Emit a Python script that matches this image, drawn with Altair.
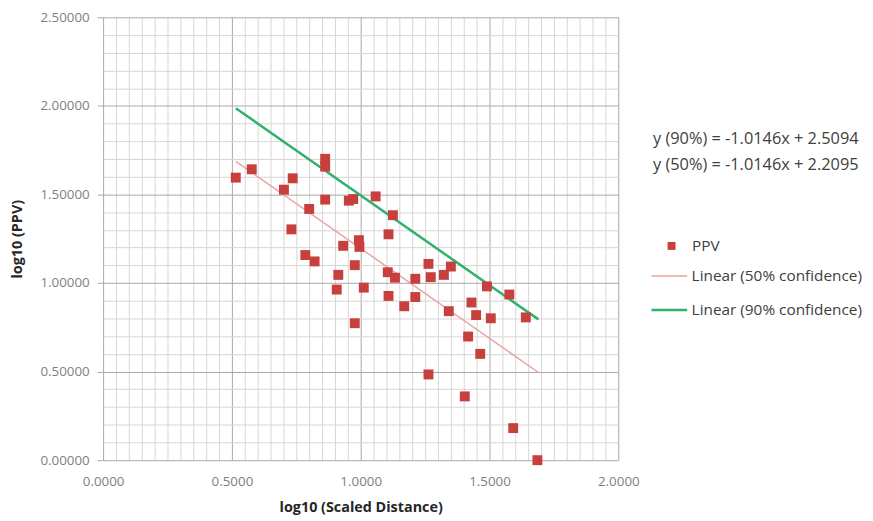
import altair as alt
import pandas as pd

# ---- data ----
x_vals = [0.515, 0.577, 0.702, 0.736, 0.862, 0.862, 0.862, 0.800, 0.731, 0.785, 0.821,
          0.954, 0.971, 1.058, 1.125, 1.108, 0.932, 0.993, 0.995, 0.977, 0.913, 0.907,
          1.012, 0.977, 1.105, 1.133, 1.108, 1.169, 1.212, 1.212, 1.263, 1.272, 1.323,
          1.350, 1.342, 1.490, 1.577, 1.430, 1.448, 1.505, 1.641, 1.417, 1.464, 1.263,
          1.404, 1.592, 1.686]
y_vals = [1.595, 1.642, 1.527, 1.591, 1.701, 1.657, 1.471, 1.418, 1.303, 1.158, 1.122,
          1.465, 1.474, 1.489, 1.383, 1.275, 1.210, 1.242, 1.204, 1.101, 1.046, 0.963,
          0.974, 0.773, 1.061, 1.030, 0.927, 0.869, 1.024, 0.921, 1.108, 1.033, 1.046,
          1.093, 0.841, 0.981, 0.935, 0.890, 0.819, 0.801, 0.806, 0.698, 0.600, 0.484,
          0.360, 0.181, 0.000]

point_series = ["PPV"]
line_series = ["Linear (50% confidence)", "Linear (90% confidence)"]
point_color = "#C8403E"
line_colors = ["#E9A3A3", "#2FB06B"]
line_widths = [1.5, 2.5]
slope = -1.0146
intercepts = [2.2095, 2.5094]
fit_x = [0.515, 1.69]
equations = ["y (90%) = -1.0146x + 2.5094", "y (50%) = -1.0146x + 2.2095"]

x_grid = [round(i * 0.05, 2) for i in range(41)]
y_grid = [round(i * 0.1, 1) for i in range(26)]

FONT = "Open Sans"

pts = pd.DataFrame({"x": x_vals, "y": y_vals, "series": point_series[0]})
fit_rows = []
for name, b in zip(line_series, intercepts):
    for xv in fit_x:
        fit_rows.append({"x": xv, "y": slope * xv + b, "series": name})
fits = pd.DataFrame(fit_rows)
eq_df = pd.DataFrame({"text": ["\n".join(equations)]})

major = "abs(datum.value * 2 - round(datum.value * 2)) < 0.000001"
grid_color = {"condition": {"test": major, "value": "#A8A8A8"}, "value": "#D6D6D6"}

x_axis = alt.Axis(
    values=x_grid, title="log10 (Scaled Distance)",
    labelExpr=f"{major} ? format(datum.value, '.4f') : ''",
    gridColor=grid_color, gridWidth=1, ticks=False, domain=False,
    labelFlush=False, labelOverlap=False, labelPadding=15,
    labelFont=FONT, labelFontSize=13.5, labelColor="#7F7F7F",
    titleFont=FONT, titleFontSize=14.5, titleFontWeight="bold", titleColor="#262626",
    titlePadding=12,
)
y_axis = alt.Axis(
    values=y_grid, title="log10 (PPV)",
    labelExpr=f"{major} ? format(datum.value, '.5f') : ''",
    gridColor=grid_color, gridWidth=1, ticks=True, tickSize=6, tickColor="#A8A8A8",
    tickOpacity={"condition": {"test": major, "value": 1}, "value": 0},
    domain=False, labelFlush=False, labelOverlap=False, labelPadding=8,
    labelFont=FONT, labelFontSize=13.5, labelColor="#7F7F7F",
    titleFont=FONT, titleFontSize=14.5, titleFontWeight="bold", titleColor="#262626",
    titlePadding=16,
)

xs = alt.Scale(domain=[0, 2], nice=False, zero=False)
ys = alt.Scale(domain=[0, 2.5], nice=False, zero=False)

lines = alt.Chart(fits).mark_line(clip=False).encode(
    x=alt.X("x:Q", scale=xs, axis=x_axis),
    y=alt.Y("y:Q", scale=ys, axis=y_axis),
    stroke=alt.Stroke(
        "series:N", scale=alt.Scale(domain=line_series, range=line_colors),
        legend=alt.Legend(title=None, orient="none", legendX=552, legendY=242,
                          symbolType="stroke", symbolSize=1296, symbolStrokeWidth=2,
                          labelFont=FONT, labelFontSize=15.5, labelColor="#404040",
                          labelOffset=3, rowPadding=6, labelLimit=400),
    ),
    strokeWidth=alt.StrokeWidth("series:N", scale=alt.Scale(domain=line_series, range=line_widths), legend=None),
)

points = alt.Chart(pts).mark_point(shape="square", filled=True, size=100, opacity=1).encode(
    x=alt.X("x:Q", scale=xs, axis=x_axis),
    y=alt.Y("y:Q", scale=ys, axis=y_axis),
    fill=alt.Fill(
        "series:N", scale=alt.Scale(domain=point_series, range=[point_color]),
        legend=alt.Legend(title=None, orient="none", legendX=566, legendY=223,
                          symbolType="square", symbolSize=64, symbolStrokeWidth=0,
                          labelFont=FONT, labelFontSize=15.5, labelColor="#404040",
                          labelOffset=13, labelLimit=400),
    ),
)

eqs = alt.Chart(eq_df).mark_text(
    align="left", baseline="top", font=FONT, fontSize=16.5, color="#404040",
    lineBreak="\n", lineHeight=26,
).encode(
    x=alt.value(555),
    y=alt.value(115),
    text="text:N",
)

chart = alt.layer(lines, points, eqs).properties(
    width=520, height=447,
    autosize=alt.AutoSizeParams(type="none"),
    padding={"left": 96, "top": 7, "right": 249, "bottom": 58},
    background="white",
).configure_view(strokeWidth=0)

chart.save("out.html", embed_options={"renderer": "svg", "actions": False})
